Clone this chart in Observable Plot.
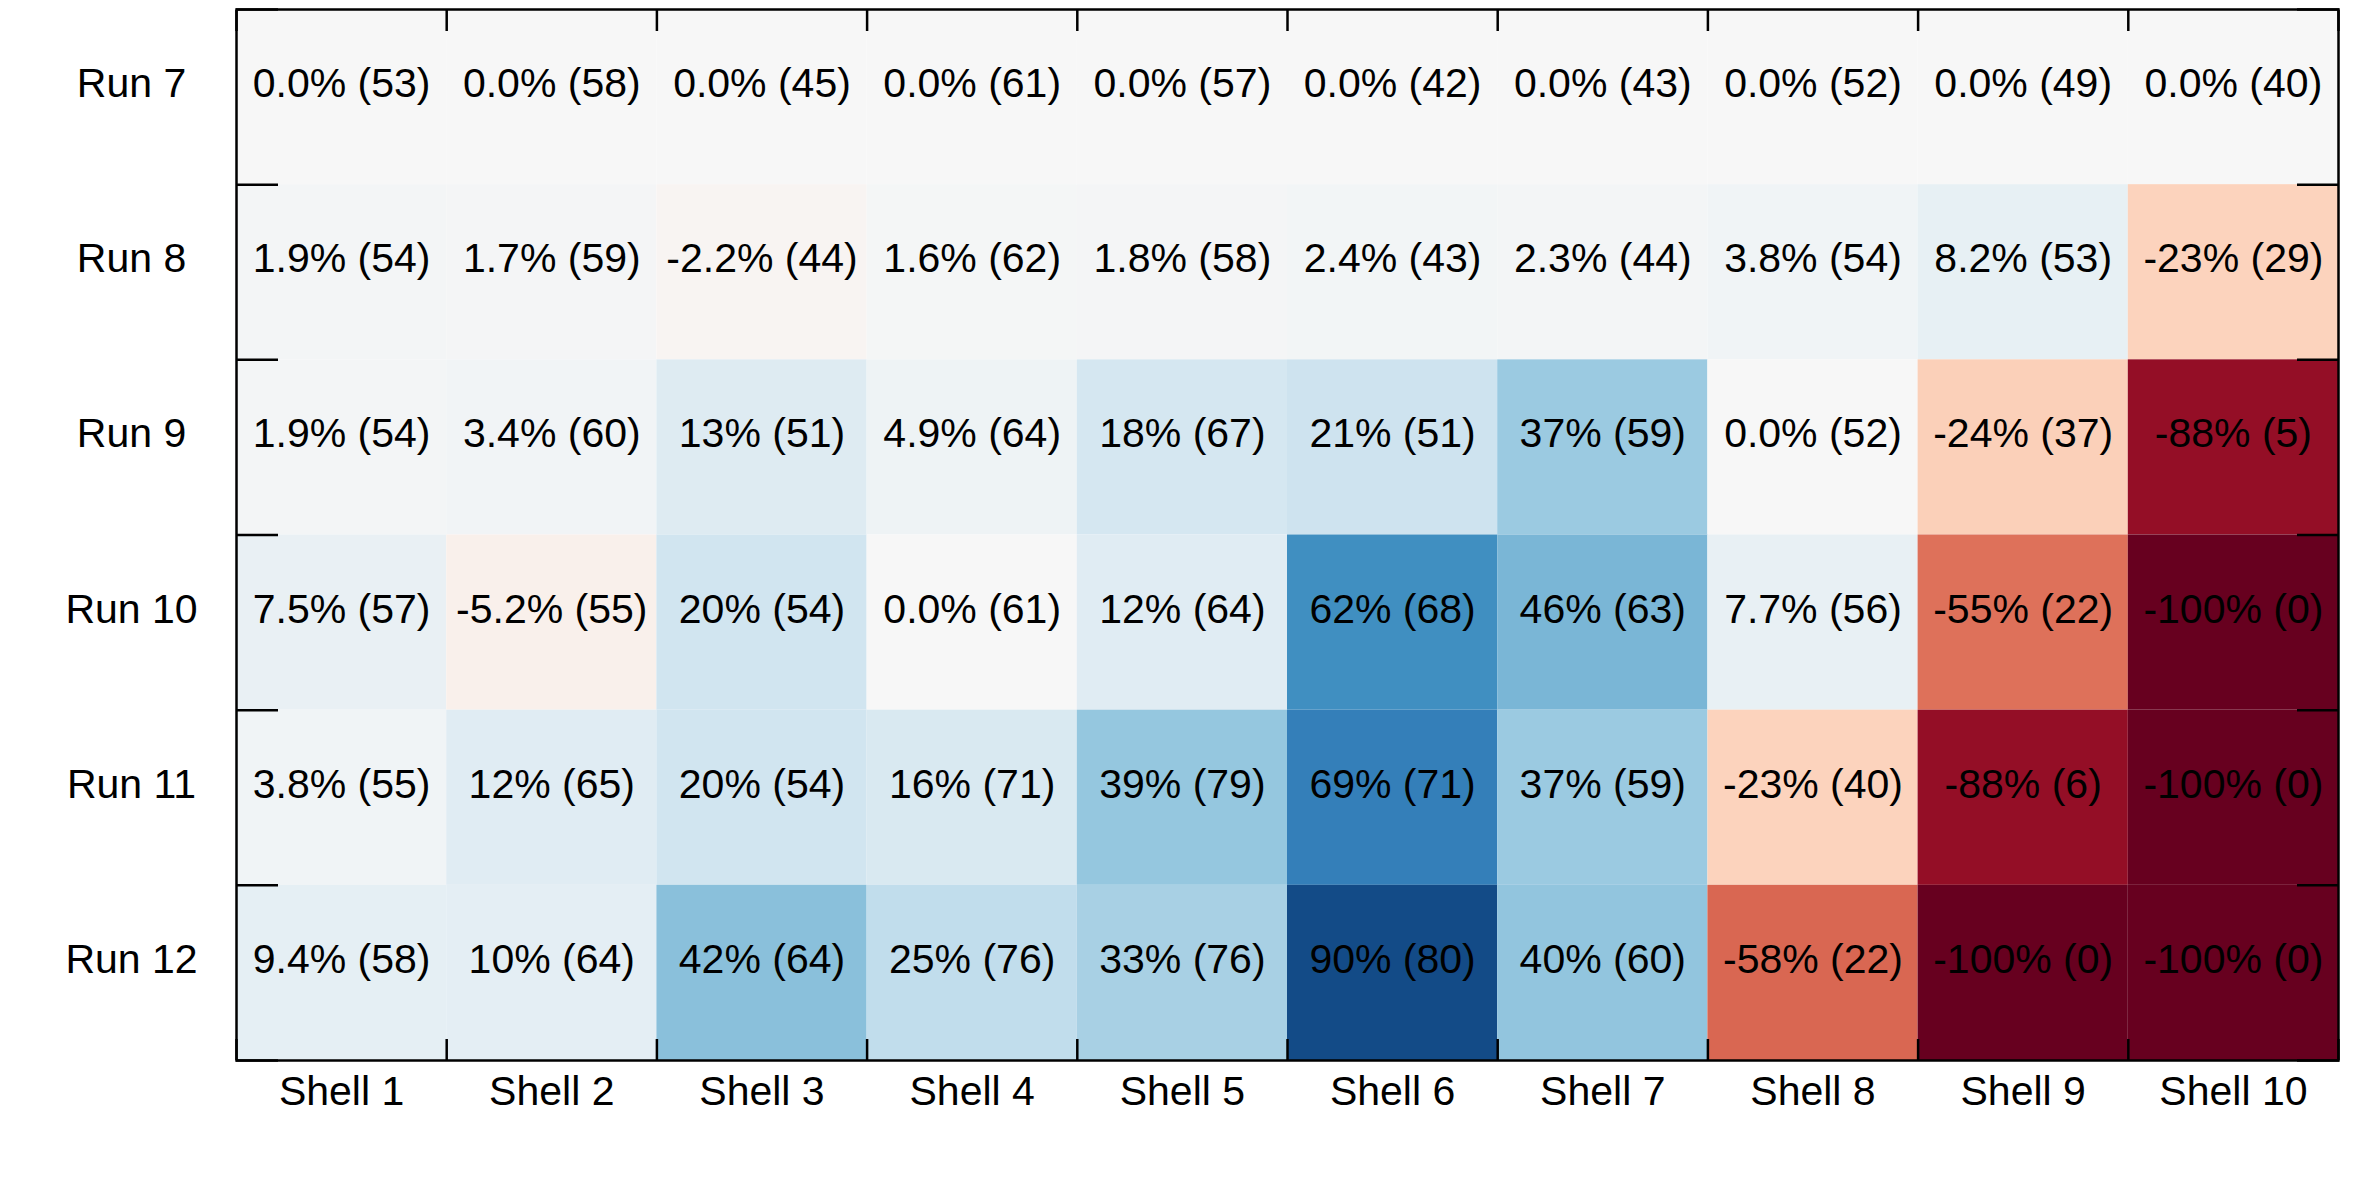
<!DOCTYPE html>
<html>
<head>
<meta charset="utf-8">
<script src="https://cdn.jsdelivr.net/npm/d3@7"></script>
<script src="https://cdn.jsdelivr.net/npm/@observablehq/plot@0.6"></script>
<style>
  html, body { margin: 0; padding: 0; background: #fff; }
  #chart svg { display: block; }
</style>
</head>
<body>
<div id="chart"></div>
<script>
const shells = ["Shell 1", "Shell 2", "Shell 3", "Shell 4", "Shell 5", "Shell 6", "Shell 7", "Shell 8", "Shell 9", "Shell 10"];
const runs = ["Run 7", "Run 8", "Run 9", "Run 10", "Run 11", "Run 12"];

// percentage change per run (rows) and shell (columns)
const run7pct  = [0.0, 0.0, 0.0, 0.0, 0.0, 0.0, 0.0, 0.0, 0.0, 0.0];
const run8pct  = [1.9, 1.7, -2.2, 1.6, 1.8, 2.4, 2.3, 3.8, 8.2, -23];
const run9pct  = [1.9, 3.4, 13, 4.9, 18, 21, 37, 0.0, -24, -88];
const run10pct = [7.5, -5.2, 20, 0.0, 12, 62, 46, 7.7, -55, -100];
const run11pct = [3.8, 12, 20, 16, 39, 69, 37, -23, -88, -100];
const run12pct = [9.4, 10, 42, 25, 33, 90, 40, -58, -100, -100];

// counts shown in parentheses
const run7n  = [53, 58, 45, 61, 57, 42, 43, 52, 49, 40];
const run8n  = [54, 59, 44, 62, 58, 43, 44, 54, 53, 29];
const run9n  = [54, 60, 51, 64, 67, 51, 59, 52, 37, 5];
const run10n = [57, 55, 54, 61, 64, 68, 63, 56, 22, 0];
const run11n = [55, 65, 54, 71, 79, 71, 59, 40, 6, 0];
const run12n = [58, 64, 64, 76, 76, 80, 60, 22, 0, 0];

const pctRows = [run7pct, run8pct, run9pct, run10pct, run11pct, run12pct];
const countRows = [run7n, run8n, run9n, run10n, run11n, run12n];

const fmt = v => d3.format(".2r")(v).replace("\u2212", "-");

const data = [];
runs.forEach((r, yi) => {
  shells.forEach((s, xi) => {
    data.push({
      xi, yi, run: r, shell: s,
      pct: pctRows[yi][xi],
      count: countRows[yi][xi],
      label: `${fmt(pctRows[yi][xi])}% (${countRows[yi][xi]})`
    });
  });
});

const FS = 41;
const xBounds = d3.range(shells.length + 1);
const yBounds = d3.range(runs.length + 1);
const xCenters = d3.range(shells.length).map(i => i + 0.5);
const yCenters = d3.range(runs.length).map(i => i + 0.5);
const noText = () => "";
const tickStyle = {stroke: "black", strokeWidth: 2.5, tickFormat: noText, label: null};

// RdBu, piecewise-linear between its 11 stops, from -100% to +100%
const colorStops = d3.range(-100, 101, 20);
const colorRange = d3.schemeRdBu[11];

const chart = Plot.plot({
  width: 2358,
  height: 1179,
  marginLeft: 236,
  marginRight: 20,
  marginTop: 9,
  marginBottom: 119,
  style: {fontFamily: "'Liberation Sans', Arial, Helvetica, sans-serif", fontSize: FS + "px", color: "black", background: "white"},
  x: {domain: [0, shells.length]},
  y: {domain: [0, runs.length], reverse: true},
  color: {type: "linear", domain: colorStops, range: colorRange, interpolate: "rgb", clamp: true},
  marks: [
    Plot.rect(data, {x1: "xi", x2: d => d.xi + 1, y1: "yi", y2: d => d.yi + 1, fill: "pct"}),
    Plot.text(data, {x: d => d.xi + 0.5, y: d => d.yi + 0.5, text: "label", fill: "black", fontSize: FS, lineAnchor: "bottom"}),
    Plot.axisX({ticks: xCenters, anchor: "bottom", tickSize: 0, tickPadding: 15, tickFormat: d => shells[Math.floor(d)], fontSize: FS, label: null}),
    Plot.axisY({ticks: yCenters, anchor: "left", tickSize: 0, tickPadding: 105, textAnchor: "middle", lineAnchor: "bottom", tickFormat: d => runs[Math.floor(d)], fontSize: FS, label: null}),
    Plot.axisY({ticks: yBounds, anchor: "left", tickSize: -42, ...tickStyle}),
    Plot.axisY({ticks: yBounds, anchor: "right", tickSize: -42, ...tickStyle}),
    Plot.axisX({ticks: xBounds, anchor: "top", tickSize: -21, ...tickStyle}),
    Plot.axisX({ticks: xBounds, anchor: "bottom", tickSize: -21, ...tickStyle}),
    Plot.frame({stroke: "black", strokeWidth: 2.5})
  ]
});
document.getElementById("chart").appendChild(chart);
</script>
</body>
</html>
